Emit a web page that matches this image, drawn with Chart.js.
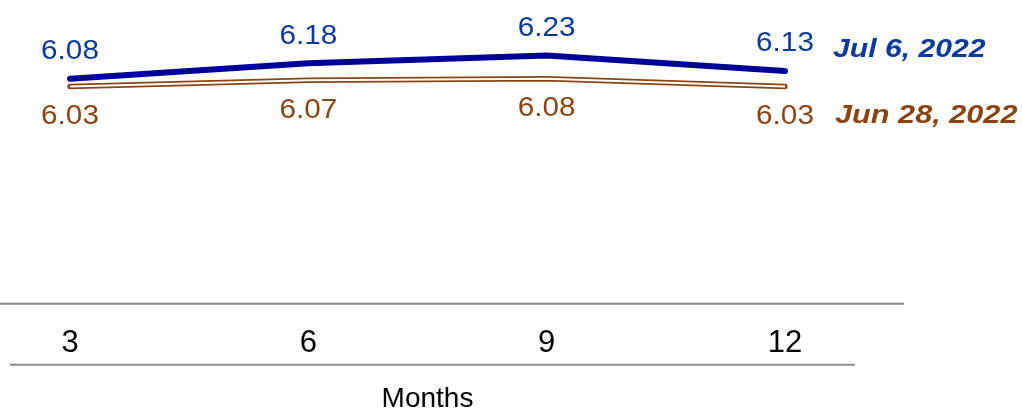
<!DOCTYPE html>
<html><head><meta charset="utf-8">
<style>html,body{margin:0;padding:0;background:#fff}#wrap{width:1022px;height:412px;position:relative}</style>
<script src="https://cdn.jsdelivr.net/npm/chart.js@4/dist/chart.umd.min.js"></script>
</head><body><div id="wrap"><canvas id="c"></canvas></div>
<script>
const months = ['3', '6', '9', '12'];
const jul6 = [6.08, 6.18, 6.23, 6.13];
const jun28 = [6.03, 6.07, 6.08, 6.03];
const seriesNames = ['Jul 6, 2022', 'Jun 28, 2022'];
const axisTitle = 'Months';

const BLUE_LINE = '#000099', BLUE_TEXT = '#0a3a9c', BROWN = '#8b4513';
const FONT = '"Liberation Sans", Arial, sans-serif';

function drawText(ctx, text, x, y, align, sx, font, color) {
  ctx.save();
  ctx.translate(x, y);
  ctx.scale(sx, 1);
  ctx.font = font;
  ctx.fillStyle = color;
  ctx.textAlign = align;
  ctx.textBaseline = 'middle';
  ctx.fillText(text, 0, 0);
  ctx.restore();
}

const decorPlugin = {
  id: 'decor',
  afterDatasetsDraw(chart) {
    const ctx = chart.ctx;
    const xs = chart.scales.x;
    ctx.save();
    ctx.strokeStyle = '#8c8c8c';
    ctx.lineWidth = 2;
    ctx.beginPath();
    ctx.moveTo(0, xs.top + 4); ctx.lineTo(xs.right + 119, xs.top + 4);
    ctx.stroke();
    ctx.beginPath();
    ctx.moveTo(10, xs.top + 65); ctx.lineTo(xs.right + 70, xs.top + 65);
    ctx.stroke();
    ctx.restore();

    const numFont = '27px ' + FONT;
    const nameFont = 'italic bold 26px ' + FONT;
    const blue = chart.getDatasetMeta(0).data;
    const brown = chart.getDatasetMeta(2).data;
    blue.forEach((p, i) => drawText(ctx, jul6[i].toFixed(2), p.x, p.y - 27, 'center', 1.1, numFont, BLUE_TEXT));
    brown.forEach((p, i) => drawText(ctx, jun28[i].toFixed(2), p.x, p.y + 30, 'center', 1.1, numFont, BROWN));
    const lb = blue[blue.length - 1], lr = brown[brown.length - 1];
    drawText(ctx, seriesNames[0], lb.x + 48, lb.y - 21, 'left', 1.16, nameFont, BLUE_TEXT);
    drawText(ctx, seriesNames[1], lr.x + 50, lr.y + 29, 'left', 1.18, nameFont, BROWN);
  }
};

new Chart(document.getElementById('c'), {
  type: 'line',
  data: {
    labels: months,
    datasets: [
      { data: jul6, borderColor: BLUE_LINE, borderWidth: 6, pointRadius: 0, borderCapStyle: 'round', tension: 0 },
      { data: jun28, borderColor: '#ffffff', borderWidth: 2, pointRadius: 0, tension: 0 },
      { data: jun28, borderColor: BROWN, borderWidth: 5.5, pointRadius: 0, borderCapStyle: 'round', tension: 0 }
    ]
  },
  options: {
    responsive: true,
    maintainAspectRatio: false,
    animation: false,
    layout: { padding: { left: 70, right: 237, top: 6, bottom: 0 } },
    plugins: { legend: { display: false }, tooltip: { enabled: false } },
    scales: {
      x: {
        type: 'category',
        offset: false,
        grid: { display: false, drawTicks: false },
        border: { display: false },
        ticks: { color: '#000', padding: 28, font: { family: FONT, size: 31, lineHeight: 1 }, maxRotation: 0 },
        title: { display: true, text: axisTitle, color: '#000', font: { family: FONT, size: 28, lineHeight: 0.9 }, padding: { top: 0, bottom: 0 } }
      },
      y: { display: false, min: 4.65, max: 6.55 }
    }
  },
  plugins: [decorPlugin]
});
</script></body></html>
